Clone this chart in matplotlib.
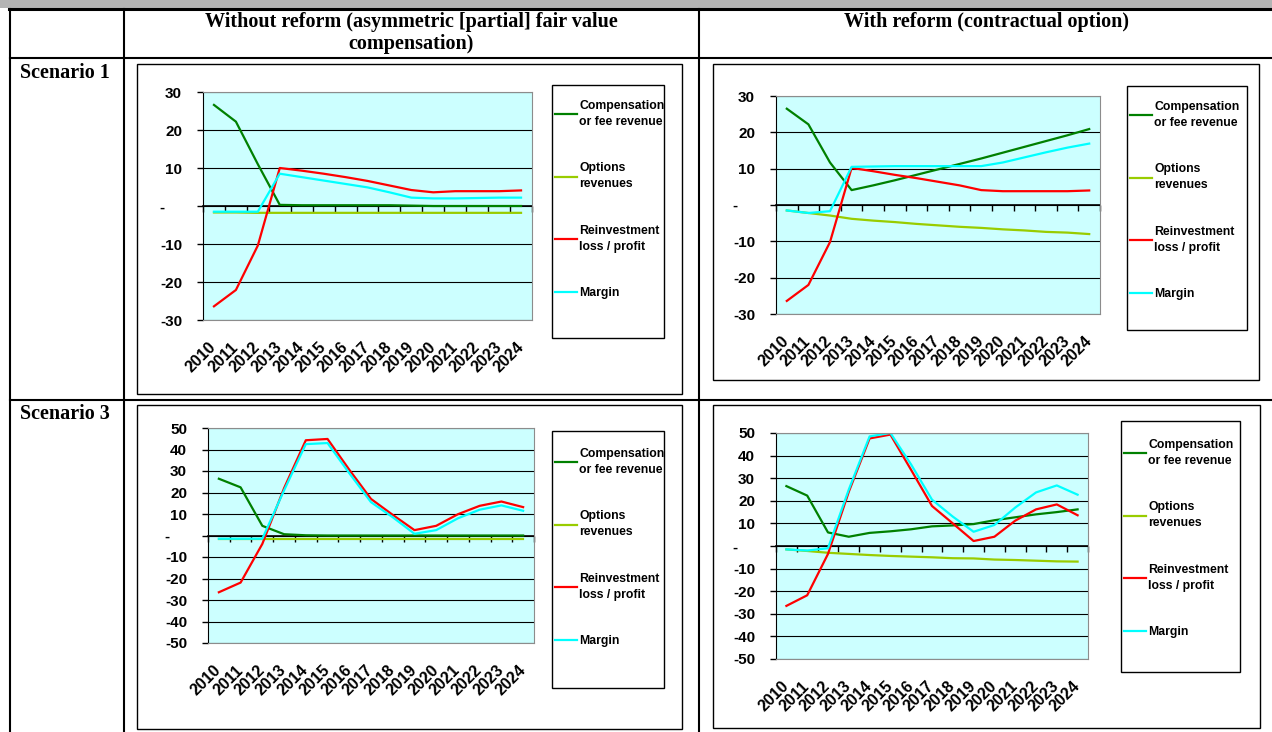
import matplotlib.pyplot as plt
import numpy as np
from matplotlib.patches import Rectangle
from matplotlib.ticker import FuncFormatter

plt.rcParams["font.family"] = ["Liberation Sans", "DejaVu Sans"]
plt.rcParams["font.weight"] = "bold"
plt.rcParams["axes.unicode_minus"] = False

years = list(range(2010, 2025))
series_labels = ["Compensation\nor fee revenue", "Options\nrevenues",
                 "Reinvestment\nloss / profit", "Margin"]
series_colors = ["#008000", "#99CC00", "#FF0000", "#00FFFF"]

# Scenario 1, without reform
comp_s1_wo = [26.6, 22.2, 11.0, 0.3, 0.2, 0.2, 0.2, 0.2, 0.2, 0.1, 0.0, 0.0, 0.0, 0.0, 0.0]
opt_s1_wo = [-1.7, -1.7, -1.8, -1.8, -1.8, -1.8, -1.8, -1.8, -1.8, -1.8, -1.8, -1.8, -1.8, -1.8, -1.8]
reinv_s1_wo = [-26.4, -22.1, -10.4, 10.0, 9.3, 8.5, 7.6, 6.6, 5.4, 4.2, 3.6, 3.9, 3.9, 3.9, 4.1]
margin_s1_wo = [-1.5, -1.5, -1.5, 8.5, 7.6, 6.7, 5.8, 4.9, 3.6, 2.2, 2.0, 2.0, 2.1, 2.2, 2.2]

# Scenario 1, with reform
comp_s1_w = [26.5, 22.2, 11.7, 4.1, 5.4, 6.8, 8.3, 9.8, 11.3, 12.8, 14.4, 16.0, 17.6, 19.2, 20.9]
opt_s1_w = [-1.5, -2.2, -2.9, -3.8, -4.3, -4.7, -5.2, -5.6, -6.0, -6.3, -6.7, -7.0, -7.4, -7.6, -8.0]
reinv_s1_w = [-26.4, -22.0, -10.2, 10.2, 9.3, 8.3, 7.4, 6.4, 5.4, 4.1, 3.8, 3.8, 3.8, 3.8, 4.0]
margin_s1_w = [-1.5, -2.2, -1.7, 10.5, 10.6, 10.7, 10.7, 10.7, 10.7, 10.7, 11.7, 13.1, 14.5, 15.8, 16.9]

# Scenario 3, without reform
comp_s3_wo = [26.4, 22.4, 4.5, 0.6, 0.1, 0.0, 0.0, 0.0, 0.0, 0.0, 0.0, 0.0, 0.0, 0.0, 0.0]
opt_s3_wo = [-1.8, -1.8, -1.8, -1.8, -1.8, -1.8, -1.8, -1.8, -1.8, -1.8, -1.8, -1.8, -1.8, -1.8, -1.8]
reinv_s3_wo = [-26.4, -21.9, -3.9, 22.0, 44.3, 44.9, 30.6, 17.0, 9.6, 2.5, 4.5, 9.9, 13.8, 15.8, 13.2]
margin_s3_wo = [-1.5, -1.5, -1.5, 21.0, 42.5, 43.0, 29.0, 15.5, 8.5, 0.8, 2.5, 8.0, 12.0, 14.0, 11.5]

# Scenario 3, with reform
comp_s3_w = [26.5, 22.3, 6.0, 4.1, 5.8, 6.5, 7.4, 8.7, 9.1, 9.7, 11.4, 12.7, 14.0, 15.0, 16.2]
opt_s3_w = [-1.5, -2.2, -3.0, -3.5, -4.0, -4.4, -4.7, -5.0, -5.4, -5.5, -6.0, -6.2, -6.5, -6.8, -6.9]
reinv_s3_w = [-26.5, -21.8, -3.5, 24.0, 47.6, 49.3, 33.6, 17.7, 10.0, 2.2, 4.1, 11.2, 16.2, 18.4, 13.6]
margin_s3_w = [-1.5, -2.0, -1.0, 25.0, 48.5, 50.0, 36.0, 20.5, 13.0, 6.3, 9.3, 17.0, 23.7, 26.8, 22.7]

W, H = 1272, 732
fig = plt.figure(figsize=(W / 100, H / 100), dpi=100)
bg = fig.add_axes([0, 0, 1, 1])
bg.set_xlim(0, W)
bg.set_ylim(H, 0)
bg.axis("off")


def px(x0, y0, x1, y1):
    return [x0 / W, 1 - y1 / H, (x1 - x0) / W, (y1 - y0) / H]


# table grid
bg.add_patch(Rectangle((0, 0), W, 8, color="#b4b4b4", lw=0))
bg.plot([9, W], [9, 9], color="black", lw=2.2)
for xl in (10, 124, 699):
    bg.plot([xl, xl], [9, H], color="black", lw=1.5)
for yl in (58, 400):
    bg.plot([10, W], [yl, yl], color="black", lw=1.5)

serif = ["Liberation Serif", "DejaVu Serif"]
bg.text(411, 33, "Without reform (asymmetric [partial] fair value\ncompensation)",
        ha="center", va="center", multialignment="center", family=serif, fontsize=14.5,
        linespacing=1.2)
bg.text(987, 22, "With reform (contractual option)", ha="center", va="center",
        family=serif, fontsize=14.5)
bg.text(20, 73, "Scenario 1", ha="left", va="center", family=serif, fontsize=14.5)
bg.text(20, 414, "Scenario 3", ha="left", va="center", family=serif, fontsize=14.5)


def draw_chart(frame, plot, legbox, leg_top, series, ylim, step):
    bg.add_patch(Rectangle((frame[0], frame[1]), frame[2] - frame[0], frame[3] - frame[1],
                           fill=False, ec="black", lw=1.0))
    bg.add_patch(Rectangle((legbox[0], legbox[1]), legbox[2] - legbox[0], legbox[3] - legbox[1],
                           fill=False, ec="black", lw=1.0))
    ax = fig.add_axes(px(*plot))
    ax.set_zorder(2)
    ax.set_facecolor("#CCFFFF")
    x = np.arange(len(years))
    for vals, lab, col in zip(series, series_labels, series_colors):
        ax.plot(x, vals, color=col, lw=1.6, label=lab)
    ax.set_xlim(-0.5, len(years) - 0.5)
    ax.set_ylim(-ylim, ylim)
    ax.set_yticks(np.arange(-ylim, ylim + 1, step))
    ax.yaxis.set_major_formatter(FuncFormatter(lambda v, p: "-    " if v == 0 else f"{v:.0f}"))
    ax.yaxis.grid(True, color="black", lw=0.8)
    ax.set_axisbelow(True)
    ax.set_xticks(x)
    ax.set_xticklabels(years, rotation=45, ha="right", va="center", rotation_mode="anchor",
                       fontsize=11.5)
    ax.tick_params(axis="x", length=0, pad=18)
    ax.tick_params(axis="y", direction="out", length=4, width=1, pad=11, labelsize=11)
    for s in ("top", "right", "bottom"):
        ax.spines[s].set_color("#8c8c8c")
    ax.spines["left"].set_color("black")

    zero = ax.secondary_xaxis(0, transform=ax.transData)
    zero.set_xticks(np.arange(len(years) + 1) - 0.5)
    zero.tick_params(axis="x", direction="out", length=4, width=1, labelbottom=False)
    zero.spines["bottom"].set_linewidth(1.2)

    leg = ax.legend(loc="upper left", bbox_to_anchor=(legbox[0] + 3, leg_top),
                    bbox_transform=bg.transData, frameon=False,
                    prop={"weight": "bold", "size": 8.8}, handlelength=1.8,
                    handletextpad=0.2, labelspacing=2.8, borderpad=0, borderaxespad=0)
    for t in leg.get_texts():
        t.set_linespacing(1.45)
    return ax


draw_chart((137, 64, 682, 394), (203, 92, 532, 320), (552, 85, 664, 338), 100,
           [comp_s1_wo, opt_s1_wo, reinv_s1_wo, margin_s1_wo], 30, 10)
draw_chart((713, 64, 1259, 380), (776, 96, 1100, 314), (1127, 86, 1247, 330), 101,
           [comp_s1_w, opt_s1_w, reinv_s1_w, margin_s1_w], 30, 10)
draw_chart((137, 405, 682, 729), (208, 428, 534, 643), (552, 431, 664, 688), 448,
           [comp_s3_wo, opt_s3_wo, reinv_s3_wo, margin_s3_wo], 50, 10)
draw_chart((713, 405, 1260, 728), (776, 433, 1088, 659), (1121, 421, 1240, 672), 439,
           [comp_s3_w, opt_s3_w, reinv_s3_w, margin_s3_w], 50, 10)

fig.savefig("out.png", dpi=100)
